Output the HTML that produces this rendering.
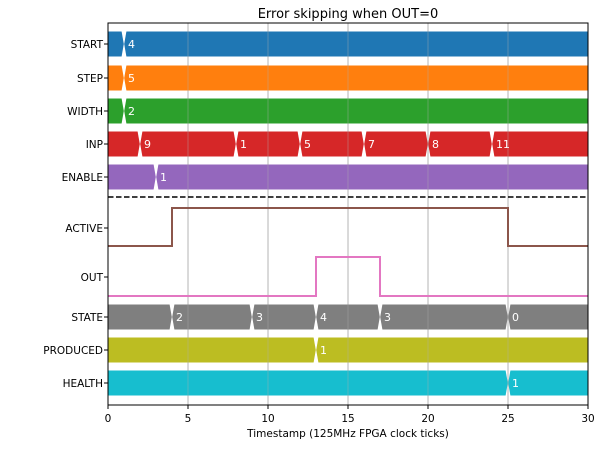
<!DOCTYPE html>
<html><head><meta charset="utf-8"><style>
body{margin:0;background:#fff;}
svg text{font-family:"DejaVu Sans","Liberation Sans",sans-serif;}
</style></head><body>
<svg id="chart" width="600" height="445" xmlns="http://www.w3.org/2000/svg"></svg>
<script>
const xTicks=[0,5,10,15,20,25,30];
const busNames=["START","STEP","WIDTH","INP","ENABLE","STATE","PRODUCED","HEALTH"];
const busTimes=[[1],[1],[1],[2,8,12,16,20,24],[3],[4,9,13,17,25],[13],[25]];
const busValues=[["4"],["5"],["2"],["9","1","5","7","8","11"],["1"],["2","3","4","3","0"],["1"],["1"]];
const activeTimes=[0,4,25,30];
const activeLevels=[0,1,0];
const outTimes=[0,13,17,30];
const outLevels=[0,1,0];

const svg=document.getElementById('chart');
const NS='http://www.w3.org/2000/svg';
const X0=108,X1=588,Y0=23,Y1=405;
const xs=t=>X0+(t-0)/(30-0)*(X1-X0);
function el(tag,attrs,parent){const e=document.createElementNS(NS,tag);for(const k in attrs)e.setAttribute(k,attrs[k]);(parent||svg).appendChild(e);return e;}
const busCenter={START:44,STEP:78,WIDTH:111,INP:144,ENABLE:177,STATE:317,PRODUCED:350,HEALTH:383};
const colors={START:"#1f77b4",STEP:"#ff7f0e",WIDTH:"#2ca02c",INP:"#d62728",ENABLE:"#9467bd",STATE:"#7f7f7f",PRODUCED:"#bcbd22",HEALTH:"#17becf"};
const H=12.5,s=2.2,g=0.2;
// grid first (visible under semi-transparent? draw under bars, then faint over)
function grid(op){xTicks.forEach(t=>{
  if(t>0&&t<30){const l=el('line',{x1:xs(t),x2:xs(t),y1:Y0,y2:Y1,stroke:'#b0b0b0','stroke-width':0.9,'stroke-opacity':op});
  }
});}
grid(1);
busNames.forEach((n,i)=>{
  const yc=busCenter[n];
  const bounds=[0,...busTimes[i],30];
  for(let k=0;k<bounds.length-1;k++){
    const a=xs(bounds[k]),b=xs(bounds[k+1]);
    const la=k>0, rb=k<bounds.length-2;
    const x0=la?a+g:a, x1=rb?b-g:b;
    const pts=[[x0,yc],[la?x0+s:x0,yc-H],[rb?x1-s:x1,yc-H],[x1,yc],[rb?x1-s:x1,yc+H],[la?x0+s:x0,yc+H]];
    const p=el('polygon',{points:pts.map(q=>q.join(',')).join(' '),fill:colors[n]});
    
    
  }
  busTimes[i].forEach((t,k)=>{
    const tx=el('text',{x:xs(t)+4,y:yc+4,fill:'#fff','font-size':11});
    tx.textContent=busValues[i][k];
    
    
  });
});
grid(0.45);
function step(times,levels,lo,hi,color,name){
  let d='';
  for(let k=0;k<levels.length;k++){
    const y=levels[k]?hi:lo;
    d+=(k?'L':'M')+xs(times[k])+','+y+'L'+xs(times[k+1])+','+y;
  }
  const p=el('path',{d,fill:'none',stroke:color,'stroke-width':2});
  
  
}
step(activeTimes,activeLevels,246,208,'#8c564b','active-line');
step(outTimes,outLevels,296,257,'#e377c2','out-line');
const ds=el('line',{x1:X0,x2:X1,y1:197,y2:197,stroke:'#000','stroke-width':1.5,'stroke-dasharray':'5.5,2.5'});

const fr=el('rect',{x:X0,y:Y0,width:X1-X0,height:Y1-Y0,fill:'none',stroke:'#000','stroke-width':1});

xTicks.forEach(t=>{
  const l=el('line',{x1:xs(t),x2:xs(t),y1:Y1,y2:Y1+4,stroke:'#000'});
  
  const tx=el('text',{x:xs(t),y:Y1+17,'font-size':10.5,'text-anchor':'middle',fill:'#000'});
  tx.textContent=t;
  
});
const yLabels=[["START",44],["STEP",78],["WIDTH",111],["INP",144],["ENABLE",177],["ACTIVE",228],["OUT",277],["STATE",317],["PRODUCED",350],["HEALTH",383]];
yLabels.forEach(([n,y])=>{
  const l=el('line',{x1:X0-4,x2:X0,y1:y,y2:y,stroke:'#000'});
  
  const tx=el('text',{x:X0-5,y:y+4,'font-size':10.5,'text-anchor':'end',fill:'#000'});
  tx.textContent=n;
  
});
const ti=el('text',{x:348,y:18,'font-size':13,'text-anchor':'middle',fill:'#000'});
ti.textContent='Error skipping when OUT=0';

const xl=el('text',{x:348,y:437,'font-size':10.5,'text-anchor':'middle',fill:'#000'});
xl.textContent='Timestamp (125MHz FPGA clock ticks)';

</script>
</body></html>
